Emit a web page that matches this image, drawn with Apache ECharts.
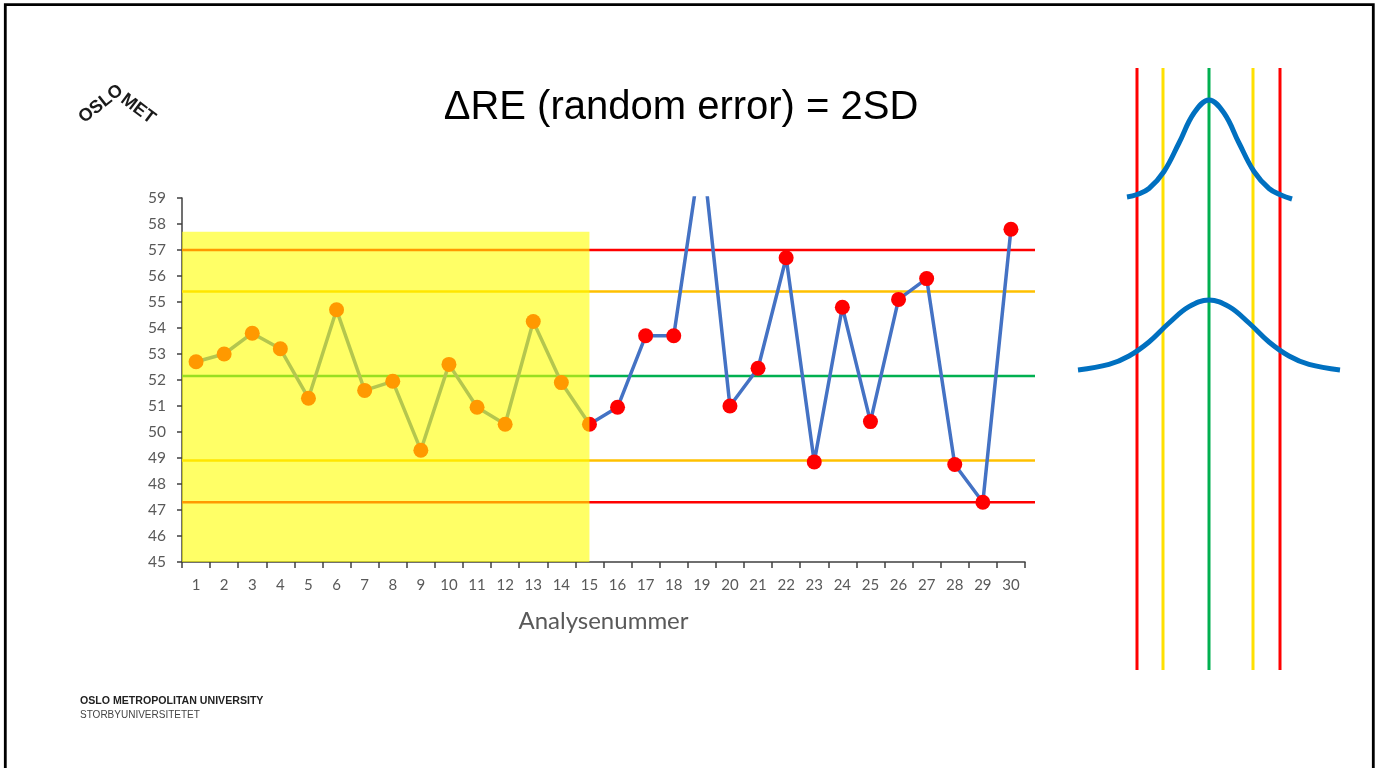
<!DOCTYPE html>
<html>
<head>
<meta charset="utf-8">
<script src="https://cdn.jsdelivr.net/npm/echarts@6/dist/echarts.min.js"></script>
<style>
html,body{margin:0;padding:0;background:#fff;}
#chart{width:1377px;height:768px;}
</style>
</head>
<body>
<div id="chart"></div>
<script>
// ---- data ----
const categories = ['1','2','3','4','5','6','7','8','9','10','11','12','13','14','15',
  '16','17','18','19','20','21','22','23','24','25','26','27','28','29','30'];
const values = [52.7, 53.0, 53.8, 53.2, 51.3, 54.7, 51.6, 51.95, 49.3, 52.6,
  50.95, 50.3, 54.25, 51.9, 50.3, 50.95, 53.7, 53.7, 61.0, 51.0,
  52.45, 56.7, 48.85, 54.8, 50.4, 55.1, 55.9, 48.75, 47.3, 57.8];
const yTicks = { min: 45, max: 59, step: 1 };
// control limits: +3SD, +2SD, mean, -2SD, -3SD
const limitValues = [57.0, 55.4, 52.15, 48.9, 47.3];
// baseline period shading: [fromX, toX, bottomY, topY]
const baselineArea = [0.5, 15, 45, 57.7];
// illustration (normal curves), x offset from centre / height units
const narrowX = [-82, -72, -60, -45, -30, -15, 0, 15, 30, 45, 60, 72, 83];
const narrowY = [483, 485.5, 491.5, 508.5, 537, 567, 580, 567, 537, 508.5, 491.5, 485, 481];
const wideX = [-131, -100, -80, -60, -40, -20, 0, 20, 40, 60, 80, 100, 131];
const wideY = [310, 315.6, 324, 338, 357, 373.3, 380, 373.3, 357, 338, 324, 315.6, 310];
const guideX = [-72, -46, 0, 44, 71];
const guideSpan = [10, 612];

// ---- styles ----
const limitColors = ['#FF0000', '#FFC000', '#00B050', '#FFC000', '#FF0000'];
const guideColors = ['#FF0000', '#FFE000', '#00B050', '#FFE000', '#FF0000'];
const gray = '#595959';
const font = 'Lato';

const chart = echarts.init(document.getElementById('chart'));

const series = [];
// main data line
series.push({
  type: 'line', xAxisIndex: 0, yAxisIndex: 0,
  data: values, z: 3, clip: true,
  lineStyle: { color: '#4472C4', width: 3.5 },
  symbol: 'circle', symbolSize: 15,
  itemStyle: { color: '#FF0000', borderWidth: 0 },
  emphasis: { disabled: true }
});
// limit lines (grid 2)
limitValues.forEach((v, i) => {
  series.push({
    type: 'line', xAxisIndex: 1, yAxisIndex: 1, z: 2,
    data: [[0.5, v], [30.856, v]], symbol: 'none',
    lineStyle: { color: limitColors[i], width: 2.5 },
    emphasis: { disabled: true }
  });
});
// translucent baseline overlay
series.push({
  type: 'custom', xAxisIndex: 1, yAxisIndex: 1, z: 10,
  data: [baselineArea],
  encode: { x: [0, 1], y: [2, 3] },
  renderItem: function (params, api) {
    const p0 = api.coord([api.value(0), api.value(3)]);
    const p1 = api.coord([api.value(1), api.value(2)]);
    return { type: 'rect',
      shape: { x: p0[0], y: p0[1], width: p1[0] - p0[0], height: p1[1] - p0[1] },
      style: { fill: 'rgba(255,255,0,0.6)' } };
  }
});
// illustration guides
guideX.forEach((x, i) => {
  series.push({
    type: 'line', xAxisIndex: 2, yAxisIndex: 2, z: 2,
    data: [[x, guideSpan[0]], [x, guideSpan[1]]], symbol: 'none',
    lineStyle: { color: guideColors[i], width: 3 },
    emphasis: { disabled: true }
  });
});
[[narrowX, narrowY], [wideX, wideY]].forEach(([xs, ys]) => {
  series.push({
    type: 'line', xAxisIndex: 2, yAxisIndex: 2, z: 3,
    data: xs.map((x, i) => [x, ys[i]]), symbol: 'none', smooth: 0.4,
    lineStyle: { color: '#0070C0', width: 5 },
    emphasis: { disabled: true }
  });
});

const option = {
  animation: false,
  backgroundColor: '#ffffff',
  grid: [
    { left: 182, top: 198, width: 843, height: 364 },
    { left: 182, top: 198, width: 853, height: 364 },
    { left: 1069, top: 60, width: 280, height: 620 }
  ],
  xAxis: [
    { type: 'category', gridIndex: 0, data: categories, boundaryGap: true,
      axisLine: { show: true, lineStyle: { color: '#404040', width: 1.5 } },
      axisTick: { show: true, alignWithLabel: false, length: 6, lineStyle: { color: '#404040', width: 1.5 } },
      axisLabel: { color: gray, fontSize: 15, fontFamily: font, margin: 16 },
      name: 'Analysenummer', nameLocation: 'middle', nameGap: 47,
      nameTextStyle: { color: gray, fontSize: 24, fontFamily: font },
      splitLine: { show: false } },
    { type: 'value', gridIndex: 1, min: 0.5, max: 30.856, show: false },
    { type: 'value', gridIndex: 2, min: -140, max: 140, show: false }
  ],
  yAxis: [
    { type: 'value', gridIndex: 0, min: yTicks.min, max: yTicks.max, interval: yTicks.step,
      axisLine: { show: true, lineStyle: { color: '#404040', width: 1.5 } },
      axisTick: { show: true, length: 5, lineStyle: { color: '#404040', width: 1.5 } },
      axisLabel: { color: gray, fontSize: 15.5, fontFamily: font, margin: 16 },
      splitLine: { show: false } },
    { type: 'value', gridIndex: 1, min: yTicks.min, max: yTicks.max, show: false },
    { type: 'value', gridIndex: 2, min: 0, max: 620, show: false }
  ],
  series: series,
  graphic: [
    { type: 'rect', z: 100, shape: { x: 5.3, y: 4.7, width: 1368, height: 800 },
      style: { fill: 'none', stroke: '#000', lineWidth: 2.8 } },
    { type: 'text', x: 681, y: 108, z: 100,
      style: { text: 'ΔRE (random error) = 2SD', fill: '#000', fontSize: 40,
        fontFamily: 'Liberation Sans', align: 'center', verticalAlign: 'middle' } },
    { type: 'text', x: 101, y: 104, rotation: 0.663, z: 100,
      style: { text: 'OSLO', fill: '#1a1a1a', fontSize: 18, fontWeight: 'bold',
        fontFamily: 'Liberation Sans', align: 'center', verticalAlign: 'middle' } },
    { type: 'text', x: 138, y: 109, rotation: -0.646, z: 100,
      style: { text: 'MET', fill: '#1a1a1a', fontSize: 18, fontWeight: 'bold',
        fontFamily: 'Liberation Sans', align: 'center', verticalAlign: 'middle' } },
    { type: 'text', x: 80, y: 701, z: 100,
      style: { text: 'OSLO METROPOLITAN UNIVERSITY', fill: '#222', fontSize: 10.6, fontWeight: 'bold',
        fontFamily: 'Liberation Sans', align: 'left', verticalAlign: 'middle' } },
    { type: 'text', x: 80, y: 715.5, z: 100,
      style: { text: 'STORBYUNIVERSITETET', fill: '#444', fontSize: 10,
        fontFamily: 'Liberation Sans', align: 'left', verticalAlign: 'middle' } }
  ]
};
chart.setOption(option);
</script>
</body>
</html>
